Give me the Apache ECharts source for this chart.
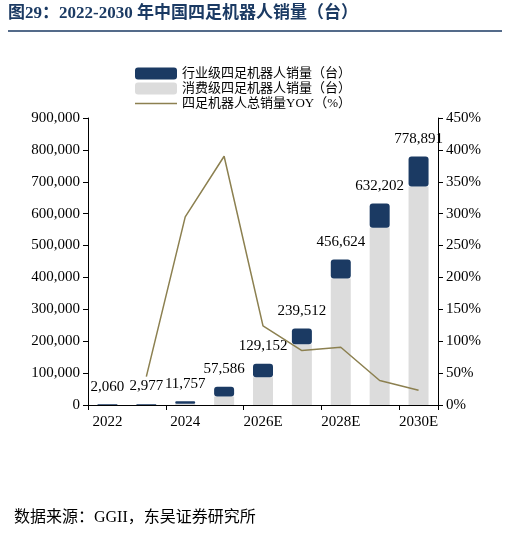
<!DOCTYPE html>
<html><head><meta charset="utf-8">
<script src="https://cdn.jsdelivr.net/npm/echarts@6/dist/echarts.min.js"></script>
<style>html,body{margin:0;padding:0;background:#fff}#c{width:510px;height:536px}</style>
</head><body><div id="c"></div>
<script>
const categories = ['2022','2023','2024','2025','2026E','2027E','2028E','2029E','2030E'];
const industrial = [1800, 2500, 8000, 31000, 42000, 49000, 60000, 76000, 94000];
const consumer = [260, 477, 3757, 26586, 87152, 190512, 396624, 556202, 684891];
const totals = [2060, 2977, 11757, 57586, 129152, 239512, 456624, 632202, 778891];
const yoy = [null, 44.5, 295, 390, 124, 85.4, 90.6, 38.5, 23.2];
const F = '"Liberation Serif","Noto Sans CJK SC",serif';
const chart = echarts.init(document.getElementById('c'));
chart.setOption({
  animation:false,
  textStyle:{fontFamily:F},
  graphic:[
    {type:'text',left:8,top:5,style:{text:'图29：2022-2030 年中国四足机器人销量（台）',font:'bold 17px '+F,fill:'#1b3a63'}},
    {type:'line',shape:{x1:8,y1:31,x2:502,y2:31},style:{stroke:'#1b3a63',lineWidth:1.5}},
    {type:'text',left:14,top:510,style:{text:'数据来源：GGII，东吴证券研究所',font:'16px '+F,fill:'#000'}}
  ],
  legend:{orient:'vertical',left:130,top:62,itemGap:2,itemWidth:42,itemHeight:12,
    textStyle:{fontFamily:F,fontSize:13,color:'#000'},
    data:['行业级四足机器人销量（台）','消费级四足机器人销量（台）',
      {name:'四足机器人总销量YOY（%）',icon:'path://M0,5L40,5L40,6.2L0,6.2Z'}]},
  grid:{left:88,right:72,top:118,bottom:131},
  xAxis:{type:'category',data:categories,
    axisLine:{lineStyle:{color:'#000'}},axisTick:{show:true,lineStyle:{color:'#000'}},
    axisLabel:{interval:1,color:'#000',fontSize:15,fontFamily:F,margin:10}},
  yAxis:[
    {type:'value',min:0,max:900000,interval:100000,splitLine:{show:false},
     axisLine:{show:true,lineStyle:{color:'#000'}},axisTick:{show:true},
     axisLabel:{color:'#000',fontSize:15,fontFamily:F,formatter:v=>v.toLocaleString('en-US')}},
    {type:'value',min:0,max:450,interval:50,splitLine:{show:false},
     axisLine:{show:true,lineStyle:{color:'#000'}},axisTick:{show:true},
     axisLabel:{color:'#000',fontSize:15,fontFamily:F,formatter:'{value}%'}}
  ],
  series:[
    {name:'消费级四足机器人销量（台）',type:'bar',stack:'s',data:consumer,barWidth:20,
     itemStyle:{color:'#dcdcdc'}},
    {name:'行业级四足机器人销量（台）',type:'bar',stack:'s',data:industrial,barWidth:20,
     itemStyle:{color:'#1b3a63',borderRadius:3},
     label:{show:true,position:'top',distance:10,color:'#000',fontSize:15,fontFamily:F,
       formatter:p=>totals[p.dataIndex].toLocaleString('en-US')}},
    {name:'四足机器人总销量YOY（%）',type:'line',yAxisIndex:1,data:yoy,symbol:'none',
     lineStyle:{color:'#8c8050',width:1.5},itemStyle:{color:'#8c8050'}}
  ]
});
</script></body></html>
